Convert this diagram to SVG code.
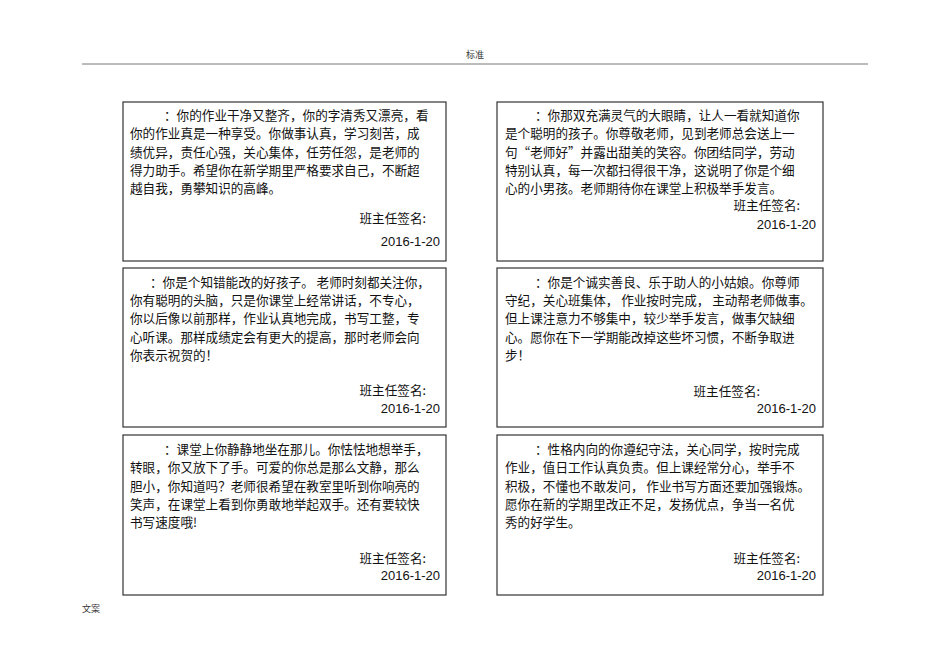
<svg xmlns="http://www.w3.org/2000/svg" width="950" height="672" viewBox="0 0 950 672">
<style>
.b{fill:#fff;stroke:#333;stroke-width:1.2}
.t{font-family:"Noto Sans CJK SC","Liberation Sans",sans-serif;font-size:12.6px;fill:#111}
.d{font-family:"Liberation Sans",sans-serif;font-size:13px;fill:#111;text-anchor:end}
.s{text-anchor:end}
.h{font-family:"Noto Sans CJK SC",sans-serif;font-size:9px;fill:#333}
</style>
<rect width="950" height="672" fill="#fff"/>
<text class="h" x="466" y="58">标准</text>
<line x1="82" y1="64" x2="868" y2="64" stroke="#555" stroke-width="0.8"/>
<text class="h" x="82" y="612">文案</text>
<g id="card1"><rect class="b" x="123" y="102" width="323" height="159"/>
<text class="t" x="164" y="120">：你的作业干净又整齐，你的字清秀又漂亮，看</text>
<text class="t" x="130" y="138">你的作业真是一种享受。你做事认真，学习刻苦，成</text>
<text class="t" x="130" y="157">绩优异，责任心强，关心集体，任劳任怨，是老师的</text>
<text class="t" x="130" y="175">得力助手。希望你在新学期里严格要求自己，不断超</text>
<text class="t" x="130" y="193">越自我，勇攀知识的高峰。</text>
<text class="t s" x="426" y="223">班主任签名:</text>
<text class="d" x="440" y="246">2016-1-20</text></g>
<g id="card2"><rect class="b" x="497" y="102" width="326" height="159"/>
<text class="t" x="535" y="120">：你那双充满灵气的大眼睛，让人一看就知道你</text>
<text class="t" x="505" y="138">是个聪明的孩子。你尊敬老师，见到老师总会送上一</text>
<text class="t" x="505" y="157">句“老师好”并露出甜美的笑容。你团结同学，劳动</text>
<text class="t" x="505" y="175">特别认真，每一次都扫得很干净，这说明了你是个细</text>
<text class="t" x="505" y="193">心的小男孩。老师期待你在课堂上积极举手发言。</text>
<text class="t s" x="800" y="210">班主任签名:</text>
<text class="d" x="816" y="229">2016-1-20</text></g>
<g id="card3"><rect class="b" x="123" y="268" width="323" height="159"/>
<text class="t" x="150" y="287">：你是个知错能改的好孩子。 老师时刻都关注你，</text>
<text class="t" x="130" y="305">你有聪明的头脑，只是你课堂上经常讲话，不专心，</text>
<text class="t" x="130" y="323">你以后像以前那样，作业认真地完成，书写工整，专</text>
<text class="t" x="130" y="342">心听课。那样成绩定会有更大的提高，那时老师会向</text>
<text class="t" x="130" y="360">你表示祝贺的！</text>
<text class="t s" x="426" y="395">班主任签名:</text>
<text class="d" x="440" y="413">2016-1-20</text></g>
<g id="card4"><rect class="b" x="497" y="268" width="326" height="159"/>
<text class="t" x="535" y="287">：你是个诚实善良、乐于助人的小姑娘。你尊师</text>
<text class="t" x="505" y="305">守纪，关心班集体， 作业按时完成， 主动帮老师做事。</text>
<text class="t" x="505" y="323">但上课注意力不够集中，较少举手发言，做事欠缺细</text>
<text class="t" x="505" y="342">心。愿你在下一学期能改掉这些坏习惯，不断争取进</text>
<text class="t" x="505" y="360">步！</text>
<text class="t s" x="760" y="396">班主任签名:</text>
<text class="d" x="816" y="413">2016-1-20</text></g>
<g id="card5"><rect class="b" x="123" y="435" width="323" height="160"/>
<text class="t" x="164" y="454">：课堂上你静静地坐在那儿。你怯怯地想举手，</text>
<text class="t" x="130" y="472">转眼，你又放下了手。可爱的你总是那么文静，那么</text>
<text class="t" x="130" y="491">胆小，你知道吗？老师很希望在教室里听到你响亮的</text>
<text class="t" x="130" y="509">笑声，在课堂上看到你勇敢地举起双手。还有要较快</text>
<text class="t" x="130" y="527">书写速度哦!</text>
<text class="t s" x="426" y="563">班主任签名:</text>
<text class="d" x="440" y="580">2016-1-20</text></g>
<g id="card6"><rect class="b" x="497" y="435" width="326" height="160"/>
<text class="t" x="535" y="454">：性格内向的你遵纪守法，关心同学，按时完成</text>
<text class="t" x="505" y="472">作业，值日工作认真负责。但上课经常分心，举手不</text>
<text class="t" x="505" y="491">积极，不懂也不敢发问， 作业书写方面还要加强锻炼。</text>
<text class="t" x="505" y="509">愿你在新的学期里改正不足，发扬优点，争当一名优</text>
<text class="t" x="505" y="527">秀的好学生。</text>
<text class="t s" x="800" y="563">班主任签名:</text>
<text class="d" x="816" y="580">2016-1-20</text></g>
<g id="connectors"/>
</svg>
